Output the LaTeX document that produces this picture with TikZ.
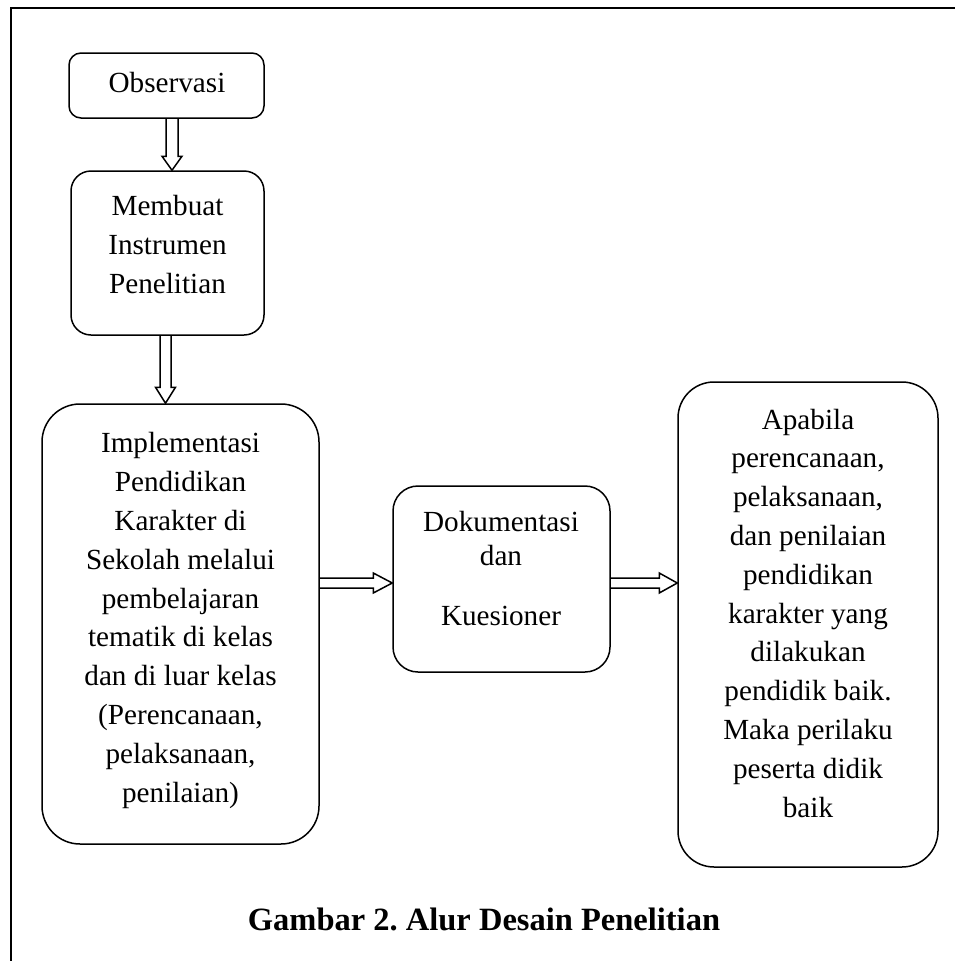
\documentclass[tikz,border=0pt]{standalone}
\usepackage{fontspec}
\setmainfont{Liberation Serif}
\usetikzlibrary{calc}
\tikzset{
  box/.style={draw, line width=1.5pt, inner sep=0pt},
  txt/.style={align=center, inner sep=0pt, anchor=base, font=\fontsize{29.2}{38.8}\selectfont},
  blk/.style={draw, line width=1.5pt, line join=miter},
  frameline/.style={line width=1.5pt},
}
\begin{document}
\frenchspacing
\begin{tikzpicture}[x=1pt,y=-1pt]
\useasboundingbox (0,0) rectangle (955,961);
% frame
\draw[frameline] (10,8) -- (955,8);
\draw[frameline] (11,8) -- (11,961);
% boxes
\node[box, minimum width=195pt, minimum height=65pt, rounded corners=12pt] (obs) at (166.5,85.5) {};
\node[box, minimum width=193pt, minimum height=164pt, rounded corners=20pt] (mem) at (167.5,253) {};
\node[box, minimum width=277pt, minimum height=440pt, rounded corners=38pt] (big) at (180.5,624) {};
\node[box, minimum width=217pt, minimum height=186pt, rounded corners=25pt] (doc) at (501.5,579) {};
\node[box, minimum width=260pt, minimum height=485pt, rounded corners=36pt] (res) at (808,624.5) {};
% texts (anchor base = baseline of the last line)
\node[txt] (tobs) at (167,92) {Observasi};
\node[txt] (tmem) at (167.5,293) {Membuat\\Instrumen\\Penelitian};
\node[txt] (tbig) at (180.5,802) {Implementasi\\Pendidikan\\Karakter di\\Sekolah melalui\\pembelajaran\\tematik di kelas\\dan di luar kelas\\(Perencanaan,\\pelaksanaan,\\penilaian)};
\node[txt, font=\fontsize{29.2}{34}\selectfont] (tdoc) at (501,625) {Dokumentasi\\dan\\[26pt]Kuesioner};
\node[txt] (tres) at (808,817) {Apabila\\perencanaan,\\pelaksanaan,\\dan penilaian\\pendidikan\\karakter yang\\dilakukan\\pendidik baik.\\Maka perilaku\\peserta didik\\baik};
\node[anchor=base, inner sep=0pt, font=\fontsize{32.5}{36}\selectfont\bfseries] (cap) at (484,930) {Gambar 2. Alur Desain Penelitian};
% block arrows
\draw[blk] let \p1=($(obs.south)+(5.5,0)$), \p2=(mem.north) in
  (\x1-6pt,\y1) -- (\x1-6pt,\y2+14pt) -- (\x1-10pt,\y2+14pt) -- (\x1,\y2)
  -- (\x1+10pt,\y2+14pt) -- (\x1+6pt,\y2+14pt) -- (\x1+6pt,\y1);
\draw[blk] let \p1=($(mem.south)+(-2,0)$), \p2=(big.north) in
  (\x1-5.5pt,\y1) -- (\x1-5.5pt,\y2+16pt) -- (\x1-10pt,\y2+16pt) -- (\x1,\y2)
  -- (\x1+10pt,\y2+16pt) -- (\x1+5.5pt,\y2+16pt) -- (\x1+5.5pt,\y1);
\draw[blk] let \p1=(big.east), \p2=(doc.west) in
  (\x1,\y2+1pt) -- (\x2-19pt,\y2+1pt) -- (\x2-19pt,\y2+6pt) -- (\x2,\y2-4pt)
  -- (\x2-19pt,\y2-14pt) -- (\x2-19pt,\y2-9pt) -- (\x1,\y2-9pt);
\draw[blk] let \p1=(doc.east), \p2=(res.west) in
  (\x1,\y1+1pt) -- (\x2-18pt,\y1+1pt) -- (\x2-18pt,\y1+6pt) -- (\x2,\y1-4pt)
  -- (\x2-18pt,\y1-14pt) -- (\x2-18pt,\y1-9pt) -- (\x1,\y1-9pt);
\end{tikzpicture}
\end{document}
